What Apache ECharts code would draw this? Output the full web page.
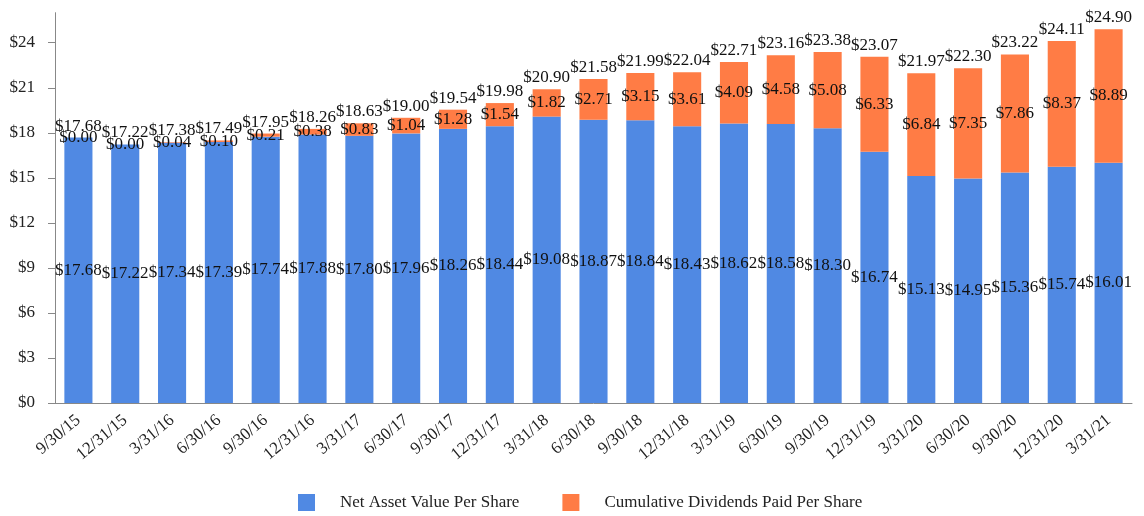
<!DOCTYPE html>
<html>
<head>
<meta charset="utf-8">
<script src="https://cdn.jsdelivr.net/npm/echarts@6/dist/echarts.min.js"></script>
<style>html,body{margin:0;padding:0;background:#fff;}#c{width:1144px;height:516px;}</style>
</head>
<body>
<div id="c"></div>
<script>
const categories = ['9/30/15','12/31/15','3/31/16','6/30/16','9/30/16','12/31/16','3/31/17','6/30/17','9/30/17','12/31/17','3/31/18','6/30/18','9/30/18','12/31/18','3/31/19','6/30/19','9/30/19','12/31/19','3/31/20','6/30/20','9/30/20','12/31/20','3/31/21'];
const navPerShare = [17.68,17.22,17.34,17.39,17.74,17.88,17.80,17.96,18.26,18.44,19.08,18.87,18.84,18.43,18.62,18.58,18.30,16.74,15.13,14.95,15.36,15.74,16.01];
const cumDividends = [0.00,0.00,0.04,0.10,0.21,0.38,0.83,1.04,1.28,1.54,1.82,2.71,3.15,3.61,4.09,4.58,5.08,6.33,6.84,7.35,7.86,8.37,8.89];
const totals = [17.68,17.22,17.38,17.49,17.95,18.26,18.63,19.00,19.54,19.98,20.90,21.58,21.99,22.04,22.71,23.16,23.38,23.07,21.97,22.30,23.22,24.11,24.90];
const seriesNames = ['Net Asset Value Per Share','Cumulative Dividends Paid Per Share'];

const FONT = '"Liberation Serif", "Times New Roman", serif';
const FS = 17;
const money = v => '$' + Number(v).toFixed(2);
const chart = echarts.init(document.getElementById('c'), null, {renderer: 'canvas'});
chart.setOption({
  animation: false,
  textStyle: {fontFamily: FONT},
  grid: {left: 55, right: 12, top: 12.7, bottom: 113, containLabel: false},
  legend: {
    data: seriesNames,
    bottom: 0,
    left: 293,
    itemWidth: 17,
    itemHeight: 17,
    itemGap: 43,
    textStyle: {fontFamily: FONT, fontSize: FS, color: '#222', padding: [0,0,0,20]},
    icon: 'rect'
  },
  xAxis: {
    type: 'category',
    data: categories,
    axisLine: {lineStyle: {color: '#888', width: 1}},
    axisTick: {alignWithLabel: true, length: 6, lineStyle: {color: '#888'}},
    axisLabel: {rotate: 40, fontFamily: FONT, fontSize: FS, color: '#222', margin: 15, interval: 0}
  },
  yAxis: {
    type: 'value',
    min: 0, max: 26, interval: 3,
    splitLine: {show: false},
    axisLine: {show: true, lineStyle: {color: '#888', width: 1}},
    axisTick: {show: true, length: 7, lineStyle: {color: '#888'}},
    axisLabel: {fontFamily: FONT, fontSize: FS, color: '#222', margin: 20, showMaxLabel: false,
      formatter: v => (v % 3 === 0 ? '$' + v : '')}
  },
  series: [
    {
      name: seriesNames[0], type: 'bar', stack: 'a', data: navPerShare, barWidth: '60%',
      itemStyle: {color: '#5089E3'},
      label: {show: true, position: 'inside', formatter: p => money(p.value), fontFamily: FONT, fontSize: FS, color: '#111'}
    },
    {
      name: seriesNames[1], type: 'bar', stack: 'a', data: cumDividends, barWidth: '60%',
      itemStyle: {color: '#FF7C45'},
      label: {show: true, position: 'inside', formatter: p => money(p.value), fontFamily: FONT, fontSize: FS, color: '#111'}
    },
    {
      name: 'Total', type: 'scatter', data: totals, symbolSize: 0, silent: true,
      itemStyle: {opacity: 1},
      label: {show: true, position: 'top', distance: 3, opacity: 1, formatter: p => money(p.value), fontFamily: FONT, fontSize: FS, color: '#111'}
    }
  ]
});
</script>
</body>
</html>
